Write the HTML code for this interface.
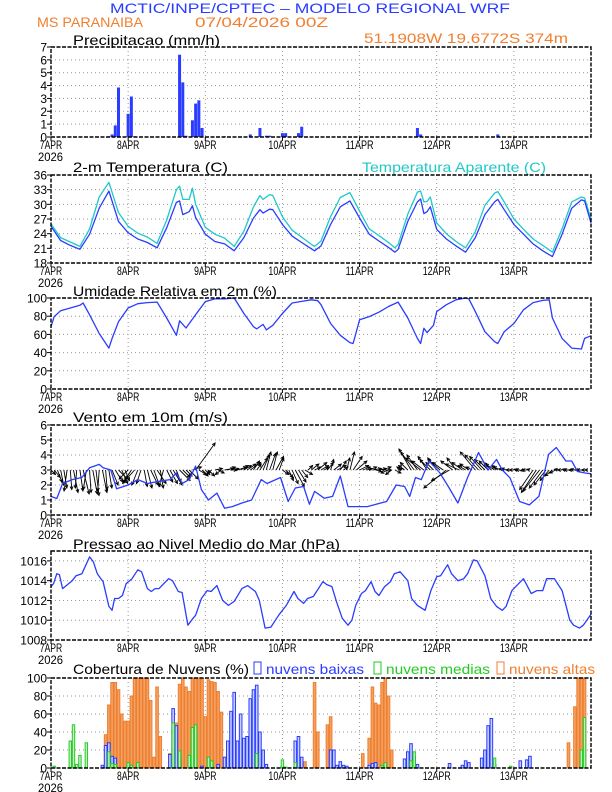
<!DOCTYPE html>
<html><head><meta charset="utf-8"><title>Meteograma WRF</title>
<style>
html,body{margin:0;padding:0;background:#fff;}
svg{display:block;font-family:"Liberation Sans",sans-serif;}
</style></head>
<body>
<svg id="chart" width="612" height="792" viewBox="0 0 612 792" xmlns="http://www.w3.org/2000/svg">
<rect x="0" y="0" width="612" height="792" fill="#fff"/>
<text x="110" y="13" font-size="14" fill="#2a3cff" textLength="400" lengthAdjust="spacingAndGlyphs">MCTIC/INPE/CPTEC – MODELO REGIONAL WRF</text>
<text x="37" y="27" font-size="14" fill="#f07f30" textLength="106" lengthAdjust="spacingAndGlyphs">MS PARANAIBA</text>
<text x="195" y="27" font-size="14" fill="#f07f30" textLength="133" lengthAdjust="spacingAndGlyphs">07/04/2026 00Z</text>
<text x="364" y="43" font-size="14" fill="#f07f30" textLength="204" lengthAdjust="spacingAndGlyphs">51.1908W 19.6772S 374m</text>
<text x="73" y="45" font-size="14" fill="#000" textLength="147" lengthAdjust="spacingAndGlyphs">Precipitacao (mm/h)</text>
<text x="73" y="172" font-size="14" fill="#000" textLength="155" lengthAdjust="spacingAndGlyphs">2-m Temperatura (C)</text>
<text x="362" y="172" font-size="14" fill="#20c8c8" textLength="184" lengthAdjust="spacingAndGlyphs">Temperatura Aparente (C)</text>
<text x="73" y="296" font-size="14" fill="#000" textLength="204" lengthAdjust="spacingAndGlyphs">Umidade Relativa em 2m (%)</text>
<text x="73" y="422" font-size="14" fill="#000" textLength="155" lengthAdjust="spacingAndGlyphs">Vento em 10m (m/s)</text>
<text x="73" y="549" font-size="14" fill="#000" textLength="267" lengthAdjust="spacingAndGlyphs">Pressao ao Nivel Medio do Mar (hPa)</text>
<text x="73" y="674" font-size="14" fill="#000" textLength="176" lengthAdjust="spacingAndGlyphs">Cobertura de Nuvens (%)</text>
<rect x="254" y="662" width="7" height="12" fill="none" stroke="#2a3cff"/>
<text x="266" y="674" font-size="14" fill="#2a3cff" textLength="98" lengthAdjust="spacingAndGlyphs">nuvens baixas</text>
<rect x="374" y="662" width="7" height="12" fill="none" stroke="#22cc22"/>
<text x="386" y="674" font-size="14" fill="#22cc22" textLength="104" lengthAdjust="spacingAndGlyphs">nuvens medias</text>
<rect x="497" y="662" width="7" height="12" fill="none" stroke="#f07f30"/>
<text x="509" y="674" font-size="14" fill="#f07f30" textLength="86" lengthAdjust="spacingAndGlyphs">nuvens altas</text>
</svg>
<script>
// ---- data ----
const dayLabels = ["7APR","8APR","9APR","10APR","11APR","12APR","13APR"];
const yearLabel = "2026";
const precipTicks = ["0","1","2","3","4","5","6","7"];
const tempTicks = ["18","21","24","27","30","33","36"];
const rhTicks = ["0","20","40","60","80","100"];
const windTicks = ["0","1","2","3","4","5","6"];
const presTicks = ["1008","1010","1012","1014","1016"];
const cloudTicks = ["0","20","40","60","80","100"];

const precipHours = [18,19,20,21,24,25,26,40,41,42,44,45,46,47,54,62,65,67,68,72,73,77,78,114,115,139];
const precipValues = [0.05,0.2,0.9,3.85,1.8,3.15,0.05,6.4,4.25,0.1,1.3,2.6,2.85,0.7,0.05,0.2,0.7,0.1,0.1,0.3,0.3,0.3,0.8,0.7,0.2,0.2];

const tempHours = [0,3,6,9,12,15,18,21,24,27,30,33,36,39,40,41,43,44,45,48,51,54,57,60,63,65,66,68,69,72,75,78,81,82,84,87,90,93,96,99,102,105,107,108,111,114,115,116,117,118,120,123,126,129,132,135,138,139,141,144,147,150,153,156,159,162,165,166,168];
const tempValues = [25.5,22.6,21.6,20.8,23.9,29.2,32.7,26.5,24.2,22.9,22.2,21.1,25.2,30.4,30.7,27.9,28.5,29.7,27.3,23.9,22.4,21.9,20.5,23.2,27.2,28.9,28.2,29.0,28.9,25.9,23.5,22.2,20.9,20.5,21.5,25.9,29.5,30.7,27.2,23.9,22.5,21.2,20.2,20.8,26.5,30.5,31.1,28.1,28.5,29.5,24.9,22.9,21.5,20.2,23.2,27.9,30.5,31.0,28.9,25.9,23.9,21.9,20.5,19.3,23.9,29.2,30.9,30.7,26.2];
const apparentValues = [26.0,23.2,22.3,21.4,25.0,31.5,34.5,28.3,25.5,24.1,23.3,22.0,26.8,33.0,33.7,31.0,31.0,33.3,30.0,25.3,23.9,23.1,21.4,24.5,29.5,31.8,31.0,32.0,31.8,27.5,24.7,23.3,21.8,21.4,22.5,27.5,31.4,32.4,28.6,25.0,23.6,22.2,21.1,21.8,28.0,32.5,32.7,30.5,30.6,31.5,26.2,24.0,22.4,21.1,24.4,29.8,32.3,32.6,30.5,27.0,24.9,22.9,21.6,20.2,25.0,30.5,31.5,31.3,27.0];

const rhHours = [0,1,3,6,9,10,12,15,18,19,21,24,27,30,33,36,39,40,42,45,48,51,54,57,60,63,64,66,67,69,72,75,78,81,83,84,87,90,93,94,96,99,102,105,108,111,114,115,116,117,119,120,123,126,129,130,132,135,138,139,141,144,147,150,153,155,156,159,162,165,166,168];
const rhValues = [68.5,79.6,86,89,92,94.5,81.5,61,45,55.6,74,89,93.7,95,95.5,78,59,75,67,81.5,96,99,99,100,83,68.5,66,71,65,70,83,94.5,96.3,98,97,92.6,72,59,51,50,76,79.6,84.4,90.7,95.5,78,55.6,50,66.7,62,70,85,92.6,98,100,99,85,63,52,50,63,72,87,95,97.4,98,78,55.6,45,44,55.6,58.5];

const windHours = [0,1.8,3.6,6.6,9.6,12,15,16.2,18.6,20.4,24,27,30,33.6,37,39,40.8,43,45,46.8,49,51.6,54,56.4,59.4,62.4,65.4,67.2,71.4,73.8,76,78.6,80.4,82,85,87.6,90,92.4,98.4,104.4,107.4,110,111.6,113.4,115.2,117.6,121,123.6,126.6,129.6,133,136,138.6,140.4,142.8,145.8,148.8,151.8,154.8,157.2,160.2,162,163.8,166.2,168];
const windSpeed = [1.24,1.1,2.1,2.36,2.5,3.15,3.37,3.15,3.0,1.75,2.0,2.36,2.1,2.25,2.36,2.8,2.1,2.36,3.26,1.69,1.0,1.46,0.45,0.56,0.8,1.0,2.36,2.1,2.5,0.9,1.8,1.9,0.72,1.57,1.12,1.24,2.6,0.56,0.56,0.9,2.0,1.9,1.24,2.5,2.36,3.6,2.8,1.9,0.8,2.5,4.16,3.0,3.7,3.0,2.47,0.9,0.67,1.24,4.04,4.5,3.6,3.6,2.9,2.8,2.75];

const windU = [0.3,0.4,0.3,0.2,
 0.2,-0.2,0.1,0.3,-0.1,0.2,0.4,-0.2,0.1,0.3,0.2,-0.1,0.3,0.1,0.2,0.4,
 0.5,0.6,0.4,0.3,
 -0.6,-0.5,-0.8,-0.4,-0.3,0.2,0.3,0.5,0.4,0.6,0.2,-0.3,0.4,0.5,0.6,0.3,0.7,0.5,0.4,0.6,
 0.6,1.3,0.5,0.4,
 0.3,0.4,-0.3,0.5,0.4,-0.4,0.6,0.5,0.4,0.3,0.6,0.5,
 0.5,0.6,0.7,0.4,0.3,0.5,0.4,0.3,0.4,0.3,0.5,0.3,
 0.4,0.5,0.3,0.4,0.6,0.5,0.4,0.5,
 0.3,0.5,0.4,0.6,0.5,0.3,0.4,0.2,0.5,0.6,0.4,0.3,0.2,0.3,0.6,0.7,
 0.6,0.5,0.4,0.5,0.6,0.4,0.5,0.6,0.4,-0.5,-0.4,0.4,0.3,-0.3,-0.4,-0.5,
 -0.8,-0.9,-0.7,-1.0,-0.8,-0.6,-0.7,-0.5,
 -0.6,-0.8,-0.7,-1.5,-1.2,-0.8,-0.6,-0.9,-0.7,-0.5,-0.6,-0.4,
 -1.0,-0.9,-0.8,-0.7,-0.6,-0.5,-0.6,-0.4,-0.5,-0.3,-0.4,-0.3,
 -0.3,-0.2,-0.3,-0.2,-0.3,-0.2,
 -0.9,-1.0,-1.1,-0.9,-0.8,-0.6,-0.5,-0.4,
 -0.3,-0.3,-0.2,-0.3,-0.2,-0.3,-0.2,-0.3,-0.2,-0.2];
const windV = [-0.3,-0.5,-0.8,-1.0,
 -1.2,-1.4,-1.3,-1.5,-1.2,-1.4,-1.6,-1.3,-1.5,-1.6,-1.7,-1.4,-1.5,-1.3,-1.2,-1.0,
 -0.8,-0.6,-0.9,-0.7,
 -0.6,-0.8,-0.9,-1.0,-0.9,-1.1,-1.2,-1.0,-1.1,-0.9,-1.2,-1.1,-0.8,-0.9,-1.0,-0.8,-0.7,-0.5,-0.4,-0.6,
 0.2,1.8,-0.3,-0.4,
 -0.3,-0.4,-0.2,0.1,-0.2,-0.3,0.1,0.2,0.0,0.1,0.2,0.3,
 0.3,0.4,0.5,0.6,0.4,0.8,1.0,1.2,1.1,1.2,0.9,0.8,
 -0.3,-0.5,-0.7,-0.9,-1.1,-0.8,-0.5,-0.3,
 0.3,0.4,0.2,0.5,0.3,0.2,0.5,0.7,0.4,0.3,0.6,0.2,0.8,1.2,0.9,0.6,
 0.3,0.2,0.1,0.2,0.1,-0.1,0.1,0.2,0.0,-0.2,-0.3,-0.2,0.1,0.2,0.3,0.5,
 1.4,1.2,1.0,0.8,0.6,0.9,0.7,0.5,
 0.8,0.7,0.5,-1.2,-0.7,0.6,0.8,0.4,0.5,0.3,0.4,0.2,
 1.2,1.0,0.9,0.7,0.6,0.5,0.4,0.3,0.2,0.1,0.1,0.0,
 0.0,0.05,0.0,-0.05,0.0,0.05,
 -1.3,-1.5,-1.4,-1.2,-1.0,-0.7,-0.4,-0.2,
 0.05,0.0,0.05,0.0,0.0,0.05,0.0,0.0,0.0,0.0];

const presHours = [0,0.8,1.8,2.6,3.6,6.6,7.8,9.6,12,13.2,14.4,16.2,18,19,19.8,21,22.2,23.4,25.2,27,28.2,30,31.2,32.4,33.6,36.6,37.8,39.6,40.8,42.6,44.2,45,46.8,48.6,49.8,51.6,53.4,55.2,57,59.4,61.2,63.6,64.8,66.6,68.4,70.8,73.2,75.6,76.8,78.6,79.8,81.6,84.6,85.8,87.4,88.8,90.6,92.4,93.6,94.8,96.6,97.8,99.6,100.8,102,103.8,105.6,106.8,108.6,111,112.2,114,116.4,118.2,120,121.2,123.4,124.6,126.6,128.4,129.6,131.4,132.6,135,136.8,138.6,140.4,141.6,143.4,145.2,147,149.4,151.2,153,154.2,156.6,159,161.4,162.6,164.4,165.6,168];
const presValues = [1013.4,1013.7,1014.7,1014.6,1013.2,1014.0,1014.5,1014.7,1016.4,1015.9,1014.7,1013.9,1011.4,1011.0,1012.2,1012.2,1012.5,1013.7,1014.2,1015.1,1014.9,1013.2,1012.9,1013.2,1013.2,1014.2,1014.0,1012.9,1012.8,1009.5,1010.2,1010.5,1012.2,1013.0,1012.9,1013.5,1012.0,1011.5,1011.9,1013.2,1013.5,1012.9,1012.0,1009.2,1009.3,1010.5,1011.5,1012.9,1012.2,1011.7,1012.2,1012.4,1013.9,1013.6,1013.4,1011.9,1010.2,1009.5,1010.0,1011.5,1012.7,1013.0,1013.9,1012.9,1012.5,1013.4,1013.9,1014.7,1014.9,1014.0,1012.2,1011.5,1011.0,1013.0,1014.4,1014.5,1015.6,1014.7,1014.0,1014.2,1014.7,1016.1,1016.0,1014.5,1012.2,1011.4,1011.0,1011.4,1013.0,1013.6,1014.2,1012.7,1013.0,1013.0,1014.2,1014.2,1013.0,1010.0,1009.5,1009.2,1009.5,1010.6];

const highHours = [17,18,19,20,21,22,23,24,25,26,27,28,29,30,31,32,33,34,37,38,39,40,41,42,43,44,45,46,47,48,49,50,51,52,53,79,82,83,86,87,97,99,100,101,102,103,104,105,106,161,163,164,165,166];
const highValues = [37,70,95,95,87,60,52,52,80,100,100,100,100,100,75,12,90,35,16,16,50,93,100,90,85,100,100,100,100,57,98,96,95,85,62,7,95,40,48,57,16,33,90,72,70,95,100,80,20,28,68,100,100,100];
const lowHours = [16,17,18,19,20,24,37,38,39,40,44,47,52,54,55,56,57,58,59,60,61,62,63,64,65,66,67,72,76,77,78,87,88,89,90,91,92,99,100,101,110,111,112,113,114,124,128,129,130,134,135,136,137,138,146,148,149];
const lowValues = [3,25,28,13,11,2,15,66,47,10,14,2,4,12,30,63,84,30,60,33,35,77,87,92,40,20,4,2,30,35,12,20,20,3,7,3,2,3,5,6,10,18,27,13,4,5,3,8,6,11,20,47,55,4,8,9,13];
const midHours = [1,6,7,8,9,11,18,19,20,24,25,27,38,40,43,44,45,49,50,64,72,73,76,103,104,112,113,138,143,165,166];
const midValues = [2,30,48,4,14,28,18,5,4,6,3,6,50,19,14,45,48,12,8,16,9,1,6,3,6,8,18,11,2,20,56];

// ---- layout ----
const NS = "http://www.w3.org/2000/svg";
const svg = document.getElementById('chart');
const X0 = 51, X1 = 591, HOURS = 168;
function xScale(h){ return X0 + h*(X1-X0)/HOURS; }
function mk(tag, attrs, parent){
  const e = document.createElementNS(NS, tag);
  for (const k in attrs) e.setAttribute(k, attrs[k]);
  (parent||svg).appendChild(e);
  return e;
}
function panel(name, top, bot, vmin, vmax, ticks){
  const g = mk('g', {});
  
  
  const y = v => bot - (v - vmin)/(vmax - vmin)*(bot - top);
  for (let d = 1; d < 7; d++){
    const gx = xScale(d*24);
    const l = mk('line', {x1:gx, x2:gx, y1:top, y2:bot, stroke:'#999', 'stroke-width':1, 'stroke-dasharray':'1,3'}, g);
    
    
  }
  ticks.forEach(t => {
    const v = parseFloat(t), ty = y(v);
    if (v > vmin && v < vmax){
      const l = mk('line', {x1:X0, x2:X1, y1:ty, y2:ty, stroke:'#999', 'stroke-width':1, 'stroke-dasharray':'1,3'}, g);
      
      
    }
    const tk = mk('line', {x1:X0-4, x2:X0, y1:ty, y2:ty, stroke:'#000'}, g);
    
    
    const tx = mk('text', {x:X0-4, y:ty+4.5, 'font-size':12, 'text-anchor':'end', fill:'#000'}, g);
    
    
    tx.textContent = t;
  });
  dayLabels.forEach((lab, d) => {
    const gx = xScale(d*24);
    const tk = mk('line', {x1:gx, x2:gx, y1:bot, y2:bot+4, stroke:'#000'}, g);
    
    
    const tx = mk('text', {x:gx, y:bot+12, 'font-size':12, 'text-anchor':'middle', fill:'#000', textLength: lab.length*5.6, lengthAdjust:'spacingAndGlyphs'}, g);
    
    
    tx.textContent = lab;
  });
  const yr = mk('text', {x:38, y:bot+24, 'font-size':12, fill:'#000', textLength:25, lengthAdjust:'spacingAndGlyphs'}, g);
  
  
  yr.textContent = yearLabel;
  const plot = mk('g', {}, g);
  
  
  return {g, plot, y, top, bot};
}
function frame(p, name){
  const r = mk('rect', {x:X0, y:p.top, width:X1-X0, height:p.bot-p.top, fill:'none', stroke:'#000', 'stroke-width':1.4, 'stroke-dasharray':'4,1.5'}, p.g);
  
  
}
function line(p, hours, vals, color, name){
  const d = hours.map((h,i) => (i?'L':'M') + xScale(h).toFixed(1) + ',' + p.y(vals[i]).toFixed(1)).join(' ');
  const e = mk('path', {d, fill:'none', stroke:color, 'stroke-width':1.3, 'stroke-linejoin':'round'}, p.plot);
  
  
}
function bars(p, hours, vals, fill, stroke, name, w){
  hours.forEach((h,i) => {
    const x = xScale(h) - w/2, yt = p.y(vals[i]);
    const r = mk('rect', {x:x, y:yt, width:w, height:Math.max(0, p.bot-yt), fill:fill, stroke:stroke, 'stroke-width':stroke==='none'?0:1}, p.plot);
    
    
  });
}

const p1 = panel('precip', 47, 137, 0, 7, precipTicks);
bars(p1, precipHours, precipValues, '#2a3cff', 'none', 'precip-bar', 3);
frame(p1, 'precip');

const p2 = panel('temp', 175, 263, 18, 36, tempTicks);
line(p2, tempHours, apparentValues, '#20c8c8', 'apparent-temp-line');
line(p2, tempHours, tempValues, '#2a3cff', 'temp-line');
frame(p2, 'temp');

const p3 = panel('rh', 298, 389, 0, 100, rhTicks);
line(p3, rhHours, rhValues, '#2a3cff', 'rh-line');
frame(p3, 'rh');

const p4 = panel('wind', 425, 515, 0, 6, windTicks);
const pxPerMs = (515-425)/6;
windU.forEach((u, h) => {
  const v = windV[h];
  const x1 = xScale(h), y1 = p4.y(3);
  const x2 = x1 + u*pxPerMs, y2 = p4.y(3 + v);
  const g = mk('g', {}, p4.plot);
  
  
  mk('line', {x1, y1, x2, y2, stroke:'#000', 'stroke-width':0.9}, g);
  const len = Math.hypot(x2-x1, y2-y1);
  if (len > 1.5){
    const a = Math.atan2(y2-y1, x2-x1), hl = 3.5;
    const ax = x2 - hl*Math.cos(a-0.45), ay = y2 - hl*Math.sin(a-0.45);
    const bx = x2 - hl*Math.cos(a+0.45), by = y2 - hl*Math.sin(a+0.45);
    mk('path', {d:`M${ax},${ay} L${x2},${y2} L${bx},${by}`, fill:'none', stroke:'#000', 'stroke-width':0.9}, g);
  }
});
line(p4, windHours, windSpeed, '#2a3cff', 'wind-speed-line');
frame(p4, 'wind');

const p5 = panel('pressure', 551, 640, 1008, 1017, presTicks);
line(p5, presHours, presValues, '#2a3cff', 'pressure-line');
frame(p5, 'pressure');

const p6 = panel('cloud', 678, 768, 0, 100, cloudTicks);
bars(p6, highHours, highValues, '#f4a060', '#ee7f30', 'cloud-high-bar', 2.6);
bars(p6, lowHours, lowValues, '#c8d0ff', '#2a3cff', 'cloud-low-bar', 2.6);
bars(p6, midHours, midValues, '#c8f0c8', '#22cc22', 'cloud-mid-bar', 2.4);
frame(p6, 'cloud');
</script>
</body></html>
